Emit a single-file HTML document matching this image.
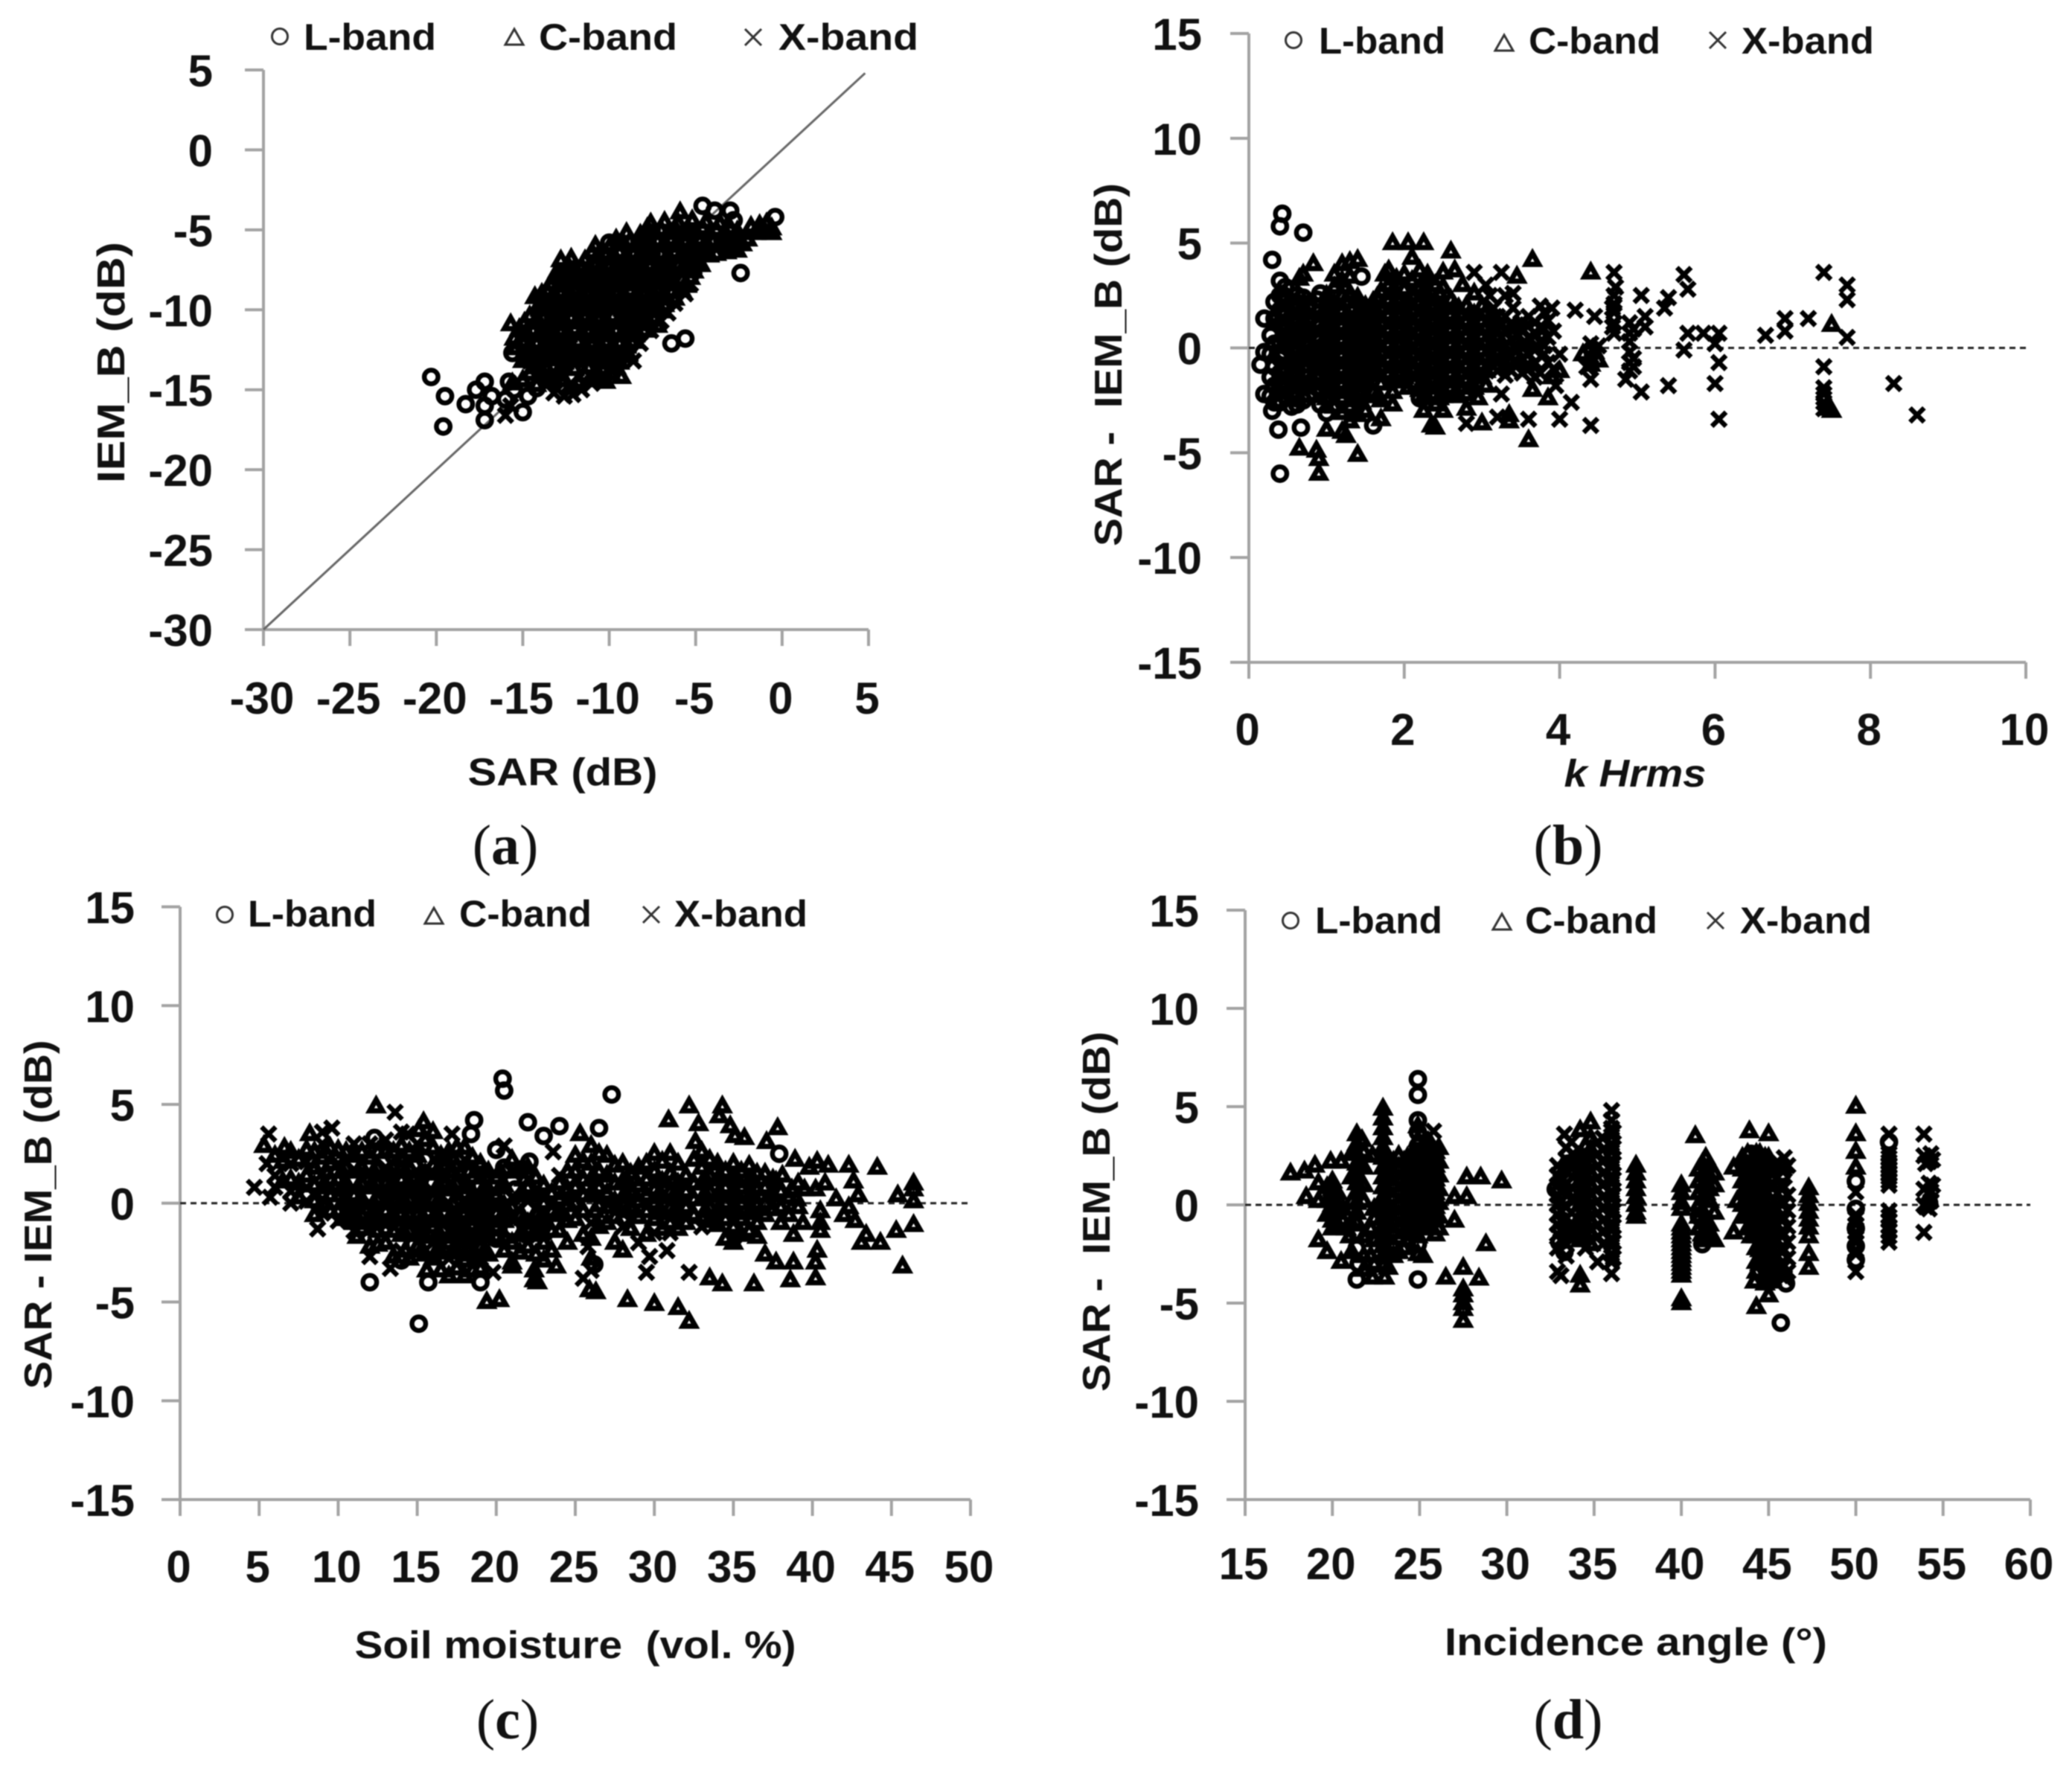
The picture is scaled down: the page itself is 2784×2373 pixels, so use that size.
<!DOCTYPE html>
<html lang="en">
<head>
<meta charset="utf-8">
<title>SAR versus IEM_B backscatter scatter plots</title>
<style>
html,body{margin:0;padding:0;background:#fff;}
svg{display:block;filter:blur(0.7px);}
text{font-family:"Liberation Sans",sans-serif;font-weight:700;fill:#111;}
.tick{font-size:60px;}
.leg{font-size:50px;}
.ttl{font-size:52px;}
.cap{font-family:"Liberation Serif",serif;font-weight:400;font-size:76px;}
.cap tspan{font-weight:700;}
</style>
</head>
<body>
<svg id="figure" xmlns="http://www.w3.org/2000/svg" width="2784" height="2373" viewBox="0 0 2784 2373">
<rect x="0" y="0" width="2784" height="2373" fill="#fff"/>

<g id="panel-a">
  <g>
    <circle cx="376" cy="49" r="10.5" fill="none" stroke="#333" stroke-width="3"/>
    <text class="leg" x="408" y="67" textLength="178" lengthAdjust="spacingAndGlyphs">L-band</text>
    <path d="M691 39 L703 60 L679 60 Z" fill="none" stroke="#333" stroke-width="3"/>
    <text class="leg" x="724" y="67" textLength="186" lengthAdjust="spacingAndGlyphs">C-band</text>
    <path d="M1001 39 L1023 61 M1023 39 L1001 61" fill="none" stroke="#333" stroke-width="3"/>
    <text class="leg" x="1046" y="67" textLength="188" lengthAdjust="spacingAndGlyphs">X-band</text>
  </g>
  <text class="ttl" x="756" y="1055" text-anchor="middle" textLength="255" lengthAdjust="spacingAndGlyphs">SAR (dB)</text>
  <text class="ttl" transform="translate(167,487) rotate(-90)" text-anchor="middle" textLength="324" lengthAdjust="spacingAndGlyphs">IEM_B (dB)</text>
  <text class="cap" x="679" y="1161" text-anchor="middle">(<tspan>a</tspan>)</text>
</g>

<g id="panel-b">
  <g>
    <circle cx="1738" cy="54" r="10.5" fill="none" stroke="#333" stroke-width="3"/>
    <text class="leg" x="1772" y="72" textLength="170" lengthAdjust="spacingAndGlyphs">L-band</text>
    <path d="M2021 47 L2033 68 L2009 68 Z" fill="none" stroke="#333" stroke-width="3"/>
    <text class="leg" x="2054" y="72" textLength="177" lengthAdjust="spacingAndGlyphs">C-band</text>
    <path d="M2297 43 L2319 65 M2319 43 L2297 65" fill="none" stroke="#333" stroke-width="3"/>
    <text class="leg" x="2340" y="72" textLength="178" lengthAdjust="spacingAndGlyphs">X-band</text>
  </g>
  <text class="ttl" x="2197" y="1057" text-anchor="middle" textLength="191" lengthAdjust="spacingAndGlyphs" font-style="italic">k Hrms</text>
  <text class="ttl" transform="translate(1507,490) rotate(-90)" text-anchor="middle" textLength="488" lengthAdjust="spacingAndGlyphs" xml:space="preserve">SAR -  IEM_B (dB)</text>
  <text class="cap" x="2107" y="1161" text-anchor="middle">(<tspan>b</tspan>)</text>
</g>

<g id="panel-c">
  <g>
    <circle cx="302" cy="1229" r="10.5" fill="none" stroke="#333" stroke-width="3"/>
    <text class="leg" x="333" y="1245" textLength="173" lengthAdjust="spacingAndGlyphs">L-band</text>
    <path d="M583 1220 L595 1241 L571 1241 Z" fill="none" stroke="#333" stroke-width="3"/>
    <text class="leg" x="617" y="1245" textLength="178" lengthAdjust="spacingAndGlyphs">C-band</text>
    <path d="M864 1218 L886 1240 M886 1218 L864 1240" fill="none" stroke="#333" stroke-width="3"/>
    <text class="leg" x="906" y="1245" textLength="179" lengthAdjust="spacingAndGlyphs">X-band</text>
  </g>
  <text class="ttl" x="773" y="2228" text-anchor="middle" textLength="593" lengthAdjust="spacingAndGlyphs" xml:space="preserve">Soil moisture  (vol. %)</text>
  <text class="ttl" transform="translate(69,1632) rotate(-90)" text-anchor="middle" textLength="469" lengthAdjust="spacingAndGlyphs">SAR - IEM_B (dB)</text>
  <text class="cap" x="682" y="2336" text-anchor="middle">(<tspan>c</tspan>)</text>
</g>

<g id="panel-d">
  <g>
    <circle cx="1734" cy="1237" r="10.5" fill="none" stroke="#333" stroke-width="3"/>
    <text class="leg" x="1767" y="1254" textLength="171" lengthAdjust="spacingAndGlyphs">L-band</text>
    <path d="M2018 1228 L2030 1249 L2006 1249 Z" fill="none" stroke="#333" stroke-width="3"/>
    <text class="leg" x="2049" y="1254" textLength="178" lengthAdjust="spacingAndGlyphs">C-band</text>
    <path d="M2294 1226 L2316 1248 M2316 1226 L2294 1248" fill="none" stroke="#333" stroke-width="3"/>
    <text class="leg" x="2338" y="1254" textLength="177" lengthAdjust="spacingAndGlyphs">X-band</text>
  </g>
  <text class="ttl" x="2198" y="2224" text-anchor="middle" textLength="514" lengthAdjust="spacingAndGlyphs">Incidence angle (°)</text>
  <text class="ttl" transform="translate(1491,1628) rotate(-90)" text-anchor="middle" textLength="484" lengthAdjust="spacingAndGlyphs" xml:space="preserve">SAR -  IEM_B (dB)</text>
  <text class="cap" x="2107" y="2336" text-anchor="middle">(<tspan>d</tspan>)</text>
</g>
</svg>

<script>
// Tick labels
const ticksAX = [-30,-25,-20,-15,-10,-5,0,5];
const ticksAY = [5,0,-5,-10,-15,-20,-25,-30];
const ticksBX = [0,2,4,6,8,10];
const ticksCX = [0,5,10,15,20,25,30,35,40,45,50];
const ticksDX = [15,20,25,30,35,40,45,50,55,60];
const ticksDiffY = [15,10,5,0,-5,-10,-15];

// Series values: flat x,y reading order
const panelA_L = [-20.3,-14.2,-19.5,-15.4,-19.6,-17.3,-18.3,-15.9,-17.7,-15,-17.2,-14.5,-17.2,-16,-17.2,-16.9,-16.8,-15.4,-16,-15.6,-15,-16.4,-14.7,-15.4,-15.5,-15,-15.8,-14.5,-15.6,-12.7,-2.4,-7.7,-6.4,-12.1,-5.6,-11.8,-0.4,-4.2,-4.6,-3.5,-3,-3.8,-3.9,-3.8,-2.8,-4.4,-10,-5.8,-12.6,-12.6,-11.8,-12.2,-8,-8,-14.2,-14.9,-13.4,-14.2,-9.5,-9.2,-7.3,-9.6,-6.5,-8.2,-5.2,-5.3];
const panelA_C = [-14.6,-14,-13.8,-14.1,-12.9,-13.9,-11.4,-14.1,-10.7,-13.9,-9.9,-14,-9.3,-14.2,-15,-13.2,-14.2,-13.3,-13.4,-13.1,-12.6,-13.3,-11.8,-13.2,-11,-13.1,-10.2,-13.3,-9.4,-13.3,-15.4,-12.4,-14.6,-12.5,-13.8,-12.3,-13,-12.4,-12.2,-12.5,-11.4,-12.3,-10.6,-12.4,-9.8,-12.5,-9,-12.3,-15.5,-11.8,-14.8,-11.6,-14,-11.5,-13.2,-11.7,-12.4,-11.6,-11.6,-11.5,-10.8,-11.7,-10,-11.6,-9.2,-11.5,-8.5,-11.6,-15.7,-10.9,-14.9,-10.8,-14.1,-10.7,-13.3,-10.9,-12.5,-10.8,-11.7,-10.7,-10.9,-10.9,-10.1,-10.8,-9.3,-10.7,-8.5,-10.9,-7.7,-10.8,-7.2,-11,-14.3,-9.2,-14,-10,-13.2,-10.1,-12.4,-9.9,-11.6,-10,-10.8,-10.1,-10,-9.9,-9.2,-10,-8.4,-10.1,-7.6,-9.9,-7,-10.1,-13.9,-9,-13.1,-9.3,-12.3,-9.1,-11.5,-9.2,-10.7,-9.3,-9.9,-9.1,-9.1,-9.2,-8.3,-9.3,-7.5,-9.1,-6.8,-9.2,-6.2,-9.3,-13.4,-8.4,-13.2,-8,-12.5,-8.5,-11.7,-8.3,-10.9,-8.4,-10.1,-8.5,-9.3,-8.3,-8.5,-8.4,-7.7,-8.5,-6.9,-8.3,-6.2,-8.4,-5.5,-8.5,-13,-7.6,-12.8,-6.9,-12.2,-7.6,-11.4,-7.7,-10.6,-7.5,-9.8,-7.6,-9,-7.7,-8.2,-7.5,-7.4,-7.6,-6.6,-7.7,-5.8,-7.5,-5.1,-7.6,-12.2,-6.8,-11.4,-6.9,-10.7,-6.7,-9.9,-6.8,-9.1,-6.9,-8.3,-6.7,-7.5,-6.8,-6.7,-6.9,-5.9,-6.7,-5.1,-6.8,-4.8,-7,-10.8,-6,-10,-6.1,-9.2,-5.9,-8.4,-6,-7.6,-6.1,-6.8,-5.9,-6,-6,-5.2,-6.1,-4.4,-5.9,-3.6,-6,-2.9,-6.1,-2.3,-5.9,-9,-5.2,-8.2,-5.3,-7.4,-5.1,-6.6,-5.2,-5.8,-5.3,-5,-5.1,-4.2,-5.2,-3.4,-5.3,-2.6,-5.1,-1.5,-5.2,-1,-5.1,-0.6,-5.2,-7.6,-4.6,-6.8,-4.5,-6,-4.6,-5.2,-4.4,-4.4,-4.5,-3.6,-4.6,-5.9,-3.9,-1.3,-4.7,-0.9,-4.6];
const panelA_Cdense = [-15.6,-14.6,-15,-14.4,-14.2,-14.7,-13.4,-14.5,-12.6,-14.4,-11.8,-14.5,-11,-14.4,-10.2,-14.5,-14.4,-13.6,-13.6,-13.7,-12.8,-13.6,-12,-13.7,-11.2,-13.6,-10.4,-13.7,-9.6,-13.6,-15,-12.8,-14.2,-12.9,-13.4,-12.8,-12.6,-12.9,-11.8,-12.8,-11,-12.9,-10.2,-12.8,-9.4,-12.9,-8.9,-12.8,-15,-12,-14.2,-12.1,-13.4,-12,-12.6,-12.1,-11.8,-12,-11,-12.1,-10.2,-12,-9.4,-12.1,-8.7,-12,-15.2,-11.2,-14.4,-11.3,-13.6,-11.2,-12.8,-11.3,-12,-11.2,-11.2,-11.3,-10.4,-11.2,-9.6,-11.3,-8.8,-11.2,-8,-11.3,-14.6,-10.4,-13.8,-10.5,-13,-10.4,-12.2,-10.5,-11.4,-10.4,-10.6,-10.5,-9.8,-10.4,-9,-10.5,-8.2,-10.4,-7.4,-10.5,-14,-9.6,-13.2,-9.7,-12.4,-9.6,-11.6,-9.7,-10.8,-9.6,-10,-9.7,-9.2,-9.6,-8.4,-9.7,-7.6,-9.6,-6.8,-9.7,-13.6,-8.8,-12.8,-8.9,-12,-8.8,-11.2,-8.9,-10.4,-8.8,-9.6,-8.9,-8.8,-8.8,-8,-8.9,-7.2,-8.8,-6.4,-8.9,-5.8,-8.8,-13,-8,-12.2,-8.1,-11.4,-8,-10.6,-8.1,-9.8,-8,-9,-8.1,-8.2,-8,-7.4,-8.1,-6.6,-8,-5.8,-8.1,-5.3,-8,-12.4,-7.2,-11.6,-7.3,-10.8,-7.2,-10,-7.3,-9.2,-7.2,-8.4,-7.3,-7.6,-7.2,-6.8,-7.3,-6,-7.2,-5.2,-7.3,-4.7,-7.2,-11,-6.4,-10.2,-6.5,-9.4,-6.4,-8.6,-6.5,-7.8,-6.4,-7,-6.5,-6.2,-6.4,-5.4,-6.5,-4.6,-6.4,-3.8,-6.5,-3.2,-6.4,-2.6,-6.3,-9.6,-5.6,-8.8,-5.7,-8,-5.6,-7.2,-5.7,-6.4,-5.6,-5.6,-5.7,-4.8,-5.6,-4,-5.7,-3.2,-5.6,-2.6,-5.7,-2,-5.6,-7.8,-4.9,-7,-5,-6.2,-4.9,-5.4,-5,-4.6,-4.9,-3.8,-5,-3,-4.9,-1.8,-4.8,-1.2,-5,-0.6,-4.9];
const panelA_Ccore = [-14.6,-13,-13.8,-13,-13,-13,-12.2,-13,-11.4,-13,-10.6,-13,-9.8,-13,-14.6,-12.2,-13.8,-12.2,-13,-12.2,-12.2,-12.2,-11.4,-12.2,-10.6,-12.2,-9.8,-12.2,-9,-12.2,-14.8,-11.4,-14,-11.4,-13.2,-11.4,-12.4,-11.4,-11.6,-11.4,-10.8,-11.4,-10,-11.4,-9.2,-11.4,-8.4,-11.4,-14.2,-10.6,-13.4,-10.6,-12.6,-10.6,-11.8,-10.6,-11,-10.6,-10.2,-10.6,-9.4,-10.6,-8.6,-10.6,-7.8,-10.6,-13.6,-9.8,-12.8,-9.8,-12,-9.8,-11.2,-9.8,-10.4,-9.8,-9.6,-9.8,-8.8,-9.8,-8,-9.8,-7.2,-9.8,-13.2,-9,-12.4,-9,-11.6,-9,-10.8,-9,-10,-9,-9.2,-9,-8.4,-9,-7.6,-9,-6.8,-9,-12.8,-8.2,-12,-8.2,-11.2,-8.2,-10.4,-8.2,-9.6,-8.2,-8.8,-8.2,-8,-8.2,-7.2,-8.2,-6.4,-8.2,-12,-7.4,-11.2,-7.4,-10.4,-7.4,-9.6,-7.4,-8.8,-7.4,-8,-7.4,-7.2,-7.4,-6.4,-7.4,-5.6,-7.4,-10.6,-6.6,-9.8,-6.6,-9,-6.6,-8.2,-6.6,-7.4,-6.6,-6.6,-6.6,-5.8,-6.6,-5,-6.6,-4.2,-6.6,-9.2,-5.8,-8.4,-5.8,-7.6,-5.8,-6.8,-5.8,-6,-5.8,-5.2,-5.8,-4.4,-5.8,-3.6,-5.8,-3,-5.8];
const panelA_X = [-16,-16.6,-15.7,-16,-13.2,-15.2,-12.6,-15.4,-12.1,-15.3,-11.6,-15,-11,-14.6,-10.5,-14.2,-9.7,-13.6,-8.8,-12.8,-8.2,-12.1,-7.6,-11.3,-7,-10.7,-6.6,-10.2,-6.2,-9.6,-5.6,-9,-5.3,-8.4,-13.6,-14.6,-12.3,-14.7,-8.6,-13.2,-14.6,-13.2,-9,-10.4,-10,-9.5,-11,-9,-12,-10,-8.2,-9,-7.2,-8,-7,-7,-5.5,-6.6,-4.6,-6.4];

const panelB_L = [0.43,6.4,0.4,5.8,0.7,5.5,0.3,4.2,0.4,3.2,0.15,-0.8,0.2,1.4,0.2,-2.2,0.3,-3,0.38,-3.9,0.67,-3.8,0.4,-6,1.45,3.4,0.6,-2.4,0.2,-0.2,0.5,0.5,0.4,2.5,0.4,1.8,0.4,1.1,0.4,0.3,0.4,-0.5,0.4,-1.2,0.4,-1.9,0.4,-2.6,0.55,2.8,0.55,2.1,0.55,1.4,0.55,0.7,0.55,0,0.55,-0.7,0.55,-1.4,0.55,-2.1,0.55,-2.8,0.7,2.4,0.7,1.7,0.7,1,0.7,0.3,0.7,-0.4,0.7,-1.1,0.7,-1.8,0.7,-2.5,0.85,2,0.85,1.3,0.85,0.6,0.85,-0.1,0.85,-0.8,0.85,-1.5,0.85,-2.2,0.28,0.6,0.28,-0.3,0.28,-1.4,0.28,-2.3,1.3,2.3,2.1,-1.6,1.6,-3.7,1,-3.1,2.2,-2.4];
const panelB_Ldense = [0.47,2.9,0.47,2.2,0.47,1.5,0.47,0.8,0.47,0.1,0.47,-0.9,0.47,-1.6,0.47,-2.3,0.62,2.5,0.62,1.8,0.62,1.1,0.62,0.4,0.62,-0.3,0.62,-1.1,0.62,-1.8,0.62,-2.7,0.77,2.1,0.77,1.4,0.77,0.7,0.77,0,0.77,-0.8,0.77,-1.4,0.77,-2.2,0.92,2.6,0.92,1.7,0.92,1,0.92,0.3,0.92,-0.5,0.92,-1.2,0.92,-1.9,0.92,-2.7,0.33,2.2,0.33,1.4,0.33,0.2,0.33,-0.9,0.33,-1.8,0.33,-2.6];
const panelB_Lcore = [0.45,2.5,0.45,1.8,0.45,1.2,0.45,0.5,0.45,-0.2,0.45,-1.2,0.45,-1.9,0.6,2.2,0.6,1.5,0.6,0.8,0.6,0.1,0.6,-0.6,0.6,-1.5,0.6,-2.2,0.75,1.9,0.75,1.2,0.75,0.4,0.75,-0.3,0.75,-1.1,0.75,-1.8,0.88,2.3,0.88,1,0.88,0.3,0.88,-0.4,0.88,-1.2,0.88,-1.9];
const panelB_C = [1.85,5,2.05,5,2.25,5,2.6,4.6,3.65,4.2,0.83,4,0.7,3.5,0.65,3.3,4.4,3.6,3.45,3.4,7.5,1.1,7.5,-3,7.45,-2.9,0.65,-4.8,0.87,-4.9,0.9,-5.3,0.9,-6,1.4,-5.1,3.6,-4.4,1,-3.9,1.25,-4.2,1.2,-4,3,-3.6,2.35,-3.7,2.4,-3.8,3.35,-3.5,3.35,-3.2,1.7,-3.4,1.85,-2.7,2.25,-3,2.8,-2.9,2.95,-2.4,3.65,-2,3.85,-2.4,3.9,-1.4,4,-1.1,2.75,3,1.1,3.5,1.3,4.1,1.4,4.2,1.2,4,1.75,3.5,1.8,3.7,2.2,3.7,2.3,3.5,2.5,3.6,2.65,3.7,4.3,-0.3,4.45,-0.2,4.5,-0.6,4.4,-0.8,1,2.5,1,1.8,1,1.1,1,0.4,1,-0.3,1,-1,1,-1.7,1,-2.4,1.2,3.2,1.2,2.5,1.2,1.8,1.2,1.1,1.2,0.4,1.2,-0.3,1.2,-1,1.2,-1.7,1.2,-2.4,1.2,-3.1,1.4,2.4,1.4,1.7,1.4,1,1.4,0.3,1.4,-0.4,1.4,-1.1,1.4,-1.8,1.4,-2.5,1.4,-3.2,1.6,2.2,1.6,1.5,1.6,0.8,1.6,0.1,1.6,-0.6,1.6,-1.3,1.6,-2.1,1.8,3,1.8,2.3,1.8,1.6,1.8,0.9,1.8,0.2,1.8,-0.5,1.8,-1.2,2,2.8,2,2.1,2,1.4,2,0.7,2,0,2,-0.7,2,-1.4,2,3.5,2.2,2.9,2.2,2.2,2.2,1.5,2.2,0.8,2.2,0.1,2.2,-0.6,2.2,-1.3,2.2,-2,2.4,3,2.4,2.3,2.4,1.6,2.4,0.9,2.4,0.2,2.4,-0.5,2.4,-1.2,2.4,-1.9,2.4,-2.7,2.6,2.3,2.6,1.6,2.6,0.9,2.6,0.2,2.6,-0.5,2.6,-1.2,2.6,-1.9,2.8,2,2.8,1.3,2.8,0.6,2.8,-0.1,2.8,-0.8,2.8,-1.5,2.8,-2.2,3,2,3,1.3,3,0.6,3,-0.1,3,-0.8,3,-1.4];
const panelB_Cdense = [1.1,2.9,1.1,2.1,1.1,1.4,1.1,0.7,1.1,0,1.1,-0.7,1.1,-1.4,1.1,-2.1,1.1,-2.8,1.3,3.4,1.3,2.6,1.3,1.4,1.3,0.7,1.3,0,1.3,-0.7,1.3,-1.4,1.3,-2.1,1.3,-2.8,1.3,-3.5,1.5,2,1.5,1.3,1.5,0.6,1.5,-0.1,1.5,-0.8,1.5,-1.5,1.5,-2.3,1.5,-3,1.7,2.7,1.7,1.9,1.7,1.2,1.7,0.5,1.7,-0.2,1.7,-0.9,1.7,-1.7,1.7,-2.5,1.9,3.3,1.9,2.6,1.9,1.9,1.9,1.2,1.9,0.5,1.9,-0.2,1.9,-0.9,1.9,-1.6,2.1,4.3,2.1,3.2,2.1,2.5,2.1,1.8,2.1,1.1,2.1,0.4,2.1,-0.3,2.1,-1,2.3,3.3,2.3,2.5,2.3,1.8,2.3,1.1,2.3,0.4,2.3,-0.3,2.3,-1,2.3,-1.7,2.3,-2.4,2.5,2.9,2.5,2,2.5,1.3,2.5,0.6,2.5,-0.1,2.5,-0.8,2.5,-1.5,2.5,-2.3,2.5,-3,2.7,1.9,2.7,1.2,2.7,0.5,2.7,-0.2,2.7,-0.9,2.7,-1.6,2.7,-2.3,2.9,2.6,2.9,1.6,2.9,0.9,2.9,0.2,2.9,-0.5,2.9,-1.2,2.9,-1.9,3.05,1.7,3.05,1,3.05,0.3,3.05,-0.4,3.05,-1.1,3.05,-1.8];
const panelB_Ccore = [1.05,2.2,1.05,1.5,1.05,0.8,1.05,0.1,1.05,-0.6,1.05,-1.3,1.05,-2,1.25,2.2,1.25,1.5,1.25,0.8,1.25,0.1,1.25,-0.6,1.25,-1.3,1.25,-2,1.45,1.8,1.45,1.1,1.45,0.4,1.45,-0.3,1.45,-1,1.45,-1.7,1.45,-2.6,1.65,2.4,1.65,1.7,1.65,1,1.65,0.3,1.65,-0.4,1.65,-1.1,1.65,-2.3,1.85,2.7,1.85,2,1.85,1.3,1.85,0.6,1.85,-0.1,1.85,-0.8,1.85,-1.5,1.85,-2.1,2.05,2.3,2.05,1.6,2.05,0.9,2.05,0.2,2.05,-0.5,2.05,-1.2,2.05,-1.9,2.25,2.7,2.25,2,2.25,1.3,2.25,0.6,2.25,-0.1,2.25,-0.8,2.25,-1.5,2.25,-2.3,2.45,2.6,2.45,1.9,2.45,1.2,2.45,0.5,2.45,-0.2,2.45,-0.9,2.45,-1.6,2.45,-2.4,2.65,2,2.65,1.3,2.65,0.6,2.65,-0.1,2.65,-0.8,2.65,-1.5,2.65,-2.2,2.85,1.7,2.85,1,2.85,0.3,2.85,-0.4,2.85,-1.1,2.85,-1.8];
const panelB_X = [7.4,3.6,7.7,3,7.7,2.3,7.7,0.5,7.2,1.4,6.9,1.4,6.9,0.8,6.65,0.6,7.4,-0.9,7.4,-1.9,7.4,-2.2,7.4,-2.6,7.4,-2.9,8.3,-1.7,8.6,-3.2,6.05,0.7,6,0.2,6.05,-0.7,6,-1.7,6.05,-3.4,5.85,0.7,5.65,0.7,5.6,-0.1,5.6,3.5,5.65,2.8,5.4,2.4,5.35,1.9,5.4,-1.8,5.05,2.5,5.1,1.5,5.1,1,5.05,-2.1,4.9,1.2,4.9,0.7,4.9,0.3,4.9,-0.2,4.9,-0.7,4.9,-1.1,4.85,-1.5,4.7,3.6,4.7,2.5,4.7,2.1,4.7,1.7,4.7,1.2,4.7,0.7,4.45,1.5,4.4,0.2,4.4,-1.5,4.4,-3.7,4.2,1.8,4.15,-2.6,4,-3.4,3.9,1.9,3.75,2,3.6,-3.4,3.25,3.6,2.9,3.6,2.8,-3.6,3.05,3,3.2,-3.3,3.4,1.9,3.1,2.5,3.5,1.2,3.6,0.5,3.8,-0.3,4,-0.3,3.25,-2.2,4.35,-0.9,3.15,1.9,3.15,1.2,3.15,0.5,3.15,-0.2,3.15,-0.9,3.3,2.5,3.3,1.5,3.3,0.8,3.3,0.1,3.3,-0.6,3.3,-1.3,3.45,0.6,3.45,-0.1,3.45,-0.8,3.6,1.5,3.6,-0.3,3.6,-1,3.75,1,3.75,0.3,3.75,-1.2,3.85,1.3,3.85,0.5,3.85,-0.7,3.4,2.6,4.4,-0.4,3.95,-1.8];
const panelB_Xdense = [3.2,1.5,3.2,0.85,3.2,0.2,3.2,-0.5,3.2,-1.1,3.38,1.2,3.38,0.4,3.38,-0.4,3.38,-1.1,3.52,0.9,3.52,0.2,3.52,-0.5,3.52,-1.2,3.68,1.2,3.68,0.7,3.68,-0.1,3.68,-0.7,3.68,-1.4,3.8,1.7,3.8,0.9,3.8,0.1,3.92,0.8,3.92,-1,4.42,-0.1,4.42,-0.6,4.5,0.1,4.68,1.9,4.68,1,4.72,2.9,4.95,0.9,4.95,-0.5,4.95,-0.9,3.25,1.1,3.25,0.5,3.25,-0.2,3.25,-0.9,3.42,0.9,3.42,0.1,3.42,-0.6,3.58,1.1,3.58,0.2,3.58,-0.8];

const panelC_L = [27.3,5.5,20.4,6.3,20.5,5.7,18.6,4.2,22,4.1,24,3.9,23,3.4,26.5,3.8,12,-4,15.1,-6.1,12.3,3.3,15.7,-4,19,-4,16.7,2.3,18.4,3.5,22.1,2.1,37.9,2.5,15.5,2.2,17,1.4,18,1.6,19,0.9,20,2.7,20.5,1.8,21.2,0.7,22,-0.3,16,1,17.5,-0.1,18.6,-1,20,-1.8,21,-1.3,13,-1.2,14,-2.9,14.8,-2.1,26.2,-3.1,11,1.2,13.5,2.4];
const panelC_C = [12.4,4.9,15.4,4.1,15.1,3.7,16,3.6,8.2,3.5,5.3,2.9,6.6,2.8,19.4,-5,20.2,-4.9,21,-3.2,22.4,-3.9,22.6,-4,23.8,-3.2,25.9,-4.4,26.3,-4.5,25.3,3.5,15.6,-3.4,11.2,-1.7,44.1,1.8,46.4,0.7,46.4,0.1,46.4,1,45.4,0.4,46.4,-1.1,45.3,-1.4,45.7,-3.2,42.3,1.9,42.6,1.1,42.9,0.4,42.3,-0.2,42,-0.6,42.7,-0.9,43.4,-1.6,43.1,-2,44.3,-2,41.5,0.2,40.5,-0.4,40.5,-1,40.5,-1.4,40.3,-2.4,40.2,-3,40.2,-3.8,38.6,-3.9,38.8,-3,37.7,-3,37,-2.6,37.8,3.8,37.1,3.1,38.9,2.2,40.3,2.1,41,1.9,39.8,1.8,38.1,1.4,37.7,1.1,39.1,1,38.7,0.7,39.5,0.7,40.2,0.7,40.8,1,39.1,-0.2,38,-1,38.8,-1.6,39.4,-1,33.5,-3.8,34.3,-4.1,36.3,-4.1,28.3,-4.9,30,-5.1,31.5,-5.3,32.2,-6,30.9,4.2,32.2,4.9,32.8,4,32.6,3.1,34.3,4.9,34.1,4.4,34.8,3.9,35.1,3.4,35.7,3.3,6,2.4,7,2.6,8,2.7,7,1.2,8,1.4,9,2.3,10,2.7,11,2.4,12,2.3,13,2.6,14,2.9,9,0.8,10,1.2,11,0.4,12,0.8,13,1,14,1.2,15,2.4,10,-0.4,11,-1,12,-0.7,13,-0.4,14,-0.2,15,0.9,12,-2.2,13,-2,14,-1.6,15,-0.6,15,-2.2,16,2.8,16,1.9,16,0.2,16,-1.2,16,-2.8,16.5,-3.4,17,2.6,17,0.7,17,-0.8,17,-2,17,-3.7,18,2.8,18,0.8,18,-0.5,18,-1.7,18,-2.9,18,-3.7,19,2,19,0.1,19,-1.1,19,-2.2,19,-3.3,20,1.3,20,0.4,20,-0.5,20,-1.2,20.5,-2.4,21,2.2,21,-0.2,21,-2,21,-3,22,1.8,22,0.8,22,-1,22,-2.2,22.4,-3.4,23,0.9,23,0,23,-1,23,-2,23,-2.9,24,1,24,0.2,24,-0.6,24,-1.4,24.5,-2,25,2.4,25,1.6,25,0.8,25,0,25,-0.8,25.5,-1.6,26,2.9,26,2,26,1.2,26,0.4,26,-1.8,26,-2.8,27,2.4,27,1.4,27,0.5,27,-0.2,27,-1,27.5,-2,28,2,28,1.1,28,0.3,28,-2.4,29,1.8,29,0.9,29,0.1,29,-0.7,29.5,-1.6,30,2.5,30,1.6,30,0.7,30,0,30,-0.8,31,2.5,31,1.5,31,0.6,31,-0.2,31,-1,32,1.4,32,0.6,32,-0.2,32,-1,33,2.6,33,1.8,33,1,33,0.2,33,-0.7,34,2,34,1.2,34,0.4,34,-0.4,34,-1.1,35,2,35,1.2,35,0.4,35,-0.4,35,-1.2,35,-2,36,1.9,36,1.1,36,0.3,36,-0.5,36,-1.4,37,1.5,37,0.8,37,0,37,-0.6,38,0.6,38,-0.2,39,0.2];
const panelC_Cdense = [6.5,2.1,6.5,1.1,7.5,2.2,7.5,1,7.5,0.3,8.5,2.6,8.5,1.8,8.5,0.9,8.5,0.1,8.5,-0.6,9.5,2.8,9.5,2,9.5,1.2,9.5,0.4,9.5,-0.4,10.5,2.6,10.5,1.8,10.5,1,10.5,0.2,10.5,-0.6,11.5,2.6,11.5,1.8,11.5,1,11.5,0.2,11.5,-0.6,11.5,-1.3,12.5,2.6,12.5,1.8,12.5,1,12.5,0.2,12.5,-0.6,12.5,-1.4,12.5,-2.1,13.5,2.6,13.5,1.8,13.5,1,13.5,0.2,13.5,-0.6,13.5,-1.4,13.5,-2.7,14.5,2.6,14.5,1.8,14.5,1,14.5,0.2,14.5,-0.6,14.5,-1.4,14.5,-2.8,15.5,3.2,15.5,1.5,15.5,0.7,15.5,-0.1,15.5,-0.9,15.5,-1.7,15.5,-2.6,16.5,2.4,16.5,1.5,16.5,0.7,16.5,-0.1,16.5,-0.9,16.5,-1.7,16.5,-2.5,17.5,2.8,17.5,1.9,17.5,1,17.5,-0.9,17.5,-1.7,17.5,-2.5,17.5,-3.3,18.5,2.3,18.5,1.3,18.5,0.3,18.5,-0.2,18.5,-1.8,18.5,-2.6,18.5,-3.4,19.5,1.6,19.5,0.7,19.5,-0.1,19.5,-0.9,19.5,-1.7,19.5,-2.6,20.5,0.9,20.5,-0.1,20.5,-0.9,20.5,-1.7,21.5,1.6,21.5,0.4,21.5,-0.6,21.5,-1.6,21.5,-2.5,22.5,1.3,22.5,0.4,22.5,-0.5,22.5,-1.5,22.5,-2.6,23.5,0.5,23.5,-0.4,23.5,-1.4,23.5,-2.4,24.5,1.6,24.5,0.7,24.5,-0.1,24.5,-0.9,25.5,2.1,25.5,1.2,25.5,0.4,25.5,-0.4,26.5,2.5,26.5,1.6,26.5,0.8,26.5,-0.1,26.5,-1.2,27.5,1.9,27.5,1,27.5,0.1,27.5,-0.7,28.5,1.5,28.5,0.6,28.5,-0.2,28.5,-1.3,29.5,2,29.5,1.2,29.5,0.4,29.5,-0.4,30.5,2.1,30.5,1.1,30.5,0.3,30.5,-0.5,30.5,-1.3,31.5,2,31.5,1,31.5,0.2,31.5,-0.6,31.5,-1.3,32.5,2.2,32.5,1,32.5,0.2,32.5,-0.6,33.5,2.2,33.5,1.4,33.5,0.6,33.5,-0.2,33.5,-0.9,34.5,1.6,34.5,0.8,34.5,0,34.5,-0.8,34.5,-1.8,35.5,1.6,35.5,0.8,35.5,0,35.5,-0.8,35.5,-1.6,36.5,1.5,36.5,0.7,36.5,-0.1,36.5,-1,36.5,-1.7,37.5,1.2,37.5,0.4,37.5,-0.3,38.5,0.3,38.5,-0.6];
const panelC_Ccore = [9.25,1.6,9.25,0.8,9.25,0,10.25,1.6,10.25,0.8,10.25,0,10.25,-0.8,11.25,1.6,11.25,0.8,11.25,0,11.25,-0.8,12.25,1.6,12.25,0.8,12.25,0,12.25,-0.8,13.25,1.6,13.25,0.8,13.25,0,13.25,-0.8,14.25,1.6,14.25,0.8,14.25,0,14.25,-0.8,14.25,-1.6,14.25,-2.4,15.25,1.6,15.25,0.8,15.25,0,15.25,-0.8,15.25,-1.6,15.25,-2.4,16.25,1.6,16.25,0.8,16.25,0,16.25,-0.8,16.25,-1.6,16.25,-2.4,17.25,1.6,17.25,0.8,17.25,0,17.25,-0.8,17.25,-1.6,17.25,-2.4,18.25,1.6,18.25,0.8,18.25,0,18.25,-0.8,18.25,-1.6,18.25,-2.4,19.25,1.6,19.25,0.8,19.25,0,19.25,-0.8,19.25,-1.6,19.25,-2.4,20.25,1.6,20.25,0.8,20.25,0,20.25,-0.8,21.75,1.2,21.75,0.4,21.75,-0.8,21.75,-1.6,22.75,0.4,22.75,-0.8,22.75,-1.6,26.25,1.2,26.25,0.4,26.25,-0.4,28.25,1.2,28.25,0.4,28.25,-0.4,30.25,1.2,30.25,0.4,30.25,-0.4,31.25,1.2,31.25,0.4,31.25,-0.4,33.25,1.2,33.25,0.4,33.25,-0.4,34.25,1.2,34.25,0.4,34.25,-0.4,35.25,1.2,35.25,0.4,35.25,-0.4,36.25,1.2,36.25,0.4,36.25,-0.4];
const panelC_X = [5.6,3.5,13.6,4.6,14.4,3.5,17.2,3.5,23.6,2.6,4.7,0.8,5.7,0.3,8.7,-1.3,12,-2.7,13.3,-3.3,20.5,2.9,19.8,-3.5,24.5,0.2,25.5,-3.8,25.8,-2.2,32.2,-3.5,29.5,-3.5,30.8,-2.4,29.7,-2.7,5.5,2,6,1.4,6,0.8,7,2,7,0.6,7,0,8,2.1,8,0.8,8,0.1,9,3.6,9,3,9,1.5,9,0.2,9,-0.5,9.6,3.8,10,2,10,0.5,10,-0.9,11,3,11,1.7,11,-0.3,11,-1.4,12,3,12,1.5,12,0,12,-1.3,13,3.2,13,1.8,13,0.3,13,-1.1,14,3.6,14,2,14,0.5,14,-0.9,14,-2.4,15,3,15,1.6,15,0.2,15,-1.4,16,0.6,16,-0.5,16,-2,17,1.8,17,0,17,-1.4,17,-2.8,18,2.2,18,0.2,18,-1.1,18,-2.3,19,1.4,19,-0.5,19,-1.7,19,-2.8,20,-0.1,20,-1.5,21,1.6,21,0.3,21,-0.7,22,1.2,22,0.1,22,-1.6,23,0.4,23,-0.5,23,-1.5,24,1.4,24,-0.2,25,1.2,25,0.4,26,0.8,26,-1,26,-3.4,28,-0.5,28,-1.2,29,-2,30,-1.5,31,-1.5,33,-1.2,35,-1.7];

const panelD_L = [24.9,6.4,24.9,5.6,24.9,4.3,24.9,3.7,24.9,3,24.9,2.3,24.9,1.6,24.9,0.9,24.9,0.2,24.9,-0.5,24.9,-1.2,24.9,-2,24.9,-3.8,21.4,-3.8,21.4,-1.4,21.4,-2.2,21.5,-3,33.3,0.4,33.5,2.1,33.3,-2.4,44,2.6,44.4,1.8,43.8,1.2,44.6,0.4,45.7,-6,45.8,1.6,46,-4,50,1.2,50,-0.2,50,-1.2,50,-2.1,50,-2.8,51.9,3.2,54.2,0.1,41,-0.6,41.2,-2,32.8,0.8,33,-1.9];
const panelD_C = [17.6,1.6,18.4,1.7,19,2,19.9,2.2,20.5,2.2,18.5,0.4,19.2,1.1,19.2,0.2,27.7,1.4,28.5,1.4,29.7,1.2,27,0.4,27.7,0.4,27,-0.8,28.8,-2,27.5,-3.2,26.5,-3.7,28.4,-3.75,27.5,-4.3,27.5,-4.6,27.5,-5,27.5,-5.3,27.5,-5.9,19.2,-1.8,19.7,-2.4,20.5,-2.9,22.3,-3.7,23,-3.7,24.9,-2.5,20,1.2,20,0.8,20,0.4,20,0,20,-0.4,20,-0.8,20,-1.2,20.6,-0.8,20.6,-0.2,21.4,3.6,21.4,3.1,21.4,2.6,21.4,2.1,21.4,1.6,21.4,1.1,21.4,0.6,21.4,0.1,21.4,-0.4,21.4,-0.9,21.7,3.3,22.3,2.5,22.2,-1.2,22.2,-2.6,22.9,4.9,22.9,4.4,22.9,3.9,22.9,3.4,22.9,2.9,22.9,2.4,22.9,1.9,22.9,1.4,22.9,0.9,22.9,0.4,22.9,-0.1,22.9,-0.6,22.9,-1.1,22.9,-1.6,22.9,-2.1,22.9,-2.6,22.9,-3.1,23.5,2.2,23.5,1.6,23.5,1,23.5,0.4,23.5,-0.2,23.5,-0.8,23.5,-1.4,23.5,-2,23.5,-2.6,24.1,2.2,24.1,1.6,24.1,1,24.1,0.4,24.1,-0.2,24.1,-0.8,24.1,-1.4,24.1,-2.2,24.6,2.6,24.6,1.9,24.6,1.2,24.6,0.5,24.6,-0.2,24.6,-0.9,24.6,-1.5,25.5,3.2,25.5,2.5,25.5,1.8,25.5,1.1,25.5,0.4,25.5,-0.3,25.5,-1,25.9,2.7,25.9,2,25.9,1.3,25.9,0.6,25.9,-0.1,25.9,-0.8,25.9,-1.5,34.8,4.2,34.2,3.8,34.5,3,34.8,3.4,34.8,2.8,34.8,2.2,34.8,1.6,34.8,1,34.8,0.4,34.8,-0.2,34.8,-0.8,34.8,-1.4,34.8,-2,34.2,-4.1,34.2,-3.6,34.2,2.4,34.2,1.8,34.2,1.2,34.2,0.6,34.2,0,34.2,-0.6,34.2,-1.2,34.2,-1.8,37.4,2,37.4,1.6,37.4,1.2,37.4,0.8,37.4,0.4,37.4,0,37.4,-0.4,37.4,-0.6,40,1,40,0.6,40,0.1,40,-0.2,40,-1.2,40,-1.6,40,-2,40,-2.4,40,-2.8,40,-3.2,40,-3.6,40,-4.8,40,-5,40.8,3.5,41,1.8,41,1.2,41,0.6,41,0,41,-0.6,41,-1.2,41.4,2.4,41.4,1.8,41.4,1.2,41.4,0.6,41.4,-1.2,41.4,-1.8,41.9,1.6,41.9,1,41.9,-0.4,41.9,-1.8,43,1.9,43.2,0.2,43,-1.4,43.9,3.75,45,3.6,44.2,-3.9,45,-4.6,44.3,-5.2,43.5,2.4,43.5,1.8,43.5,1.2,43.5,0.6,43.5,0,43.5,-0.6,44,2.2,44,1.4,44,0.8,44,0.2,44,-0.4,44,-1,44,-1.6,44.5,2.6,44.5,1.9,44.5,1.2,44.5,0.5,44.5,-0.2,44.5,-0.9,44.5,-1.6,44.5,-2.3,44.5,-3,45,2.4,45,1.7,45,1,45,0.3,45,-0.4,45,-1.1,45,-1.8,45,-2.5,45,-3.2,45,-3.9,47.3,0.85,47.3,0.45,47.3,0.05,47.3,-0.35,47.3,-0.75,47.3,-1.15,47.3,-1.6,47.3,-2.5,47.3,-3.2,50,5,50,3.6,50,2.7,50,1.9];
const panelD_Cdense = [19.7,0.9,19.7,0.2,19.7,-0.5,20.3,0.6,20.3,-0.2,20.3,-1,20.8,-1.2,21,-1.6,21.1,2.6,21.1,1.4,21.1,0.2,21.1,-1,21.1,-2.4,21.8,2.7,21.8,1.9,21.8,1,21.8,0.2,21.8,-1.6,21.8,-2.6,21.8,-3.3,22.4,-0.2,22.4,-0.7,22.4,-1.8,22.4,-3,23.2,2.3,23.2,1.5,23.2,0.7,23.2,-0.1,23.2,-0.9,23.2,-1.7,23.2,-2.5,23.2,-3.2,23.8,2.5,23.8,1.9,23.8,1.3,23.8,0.7,23.8,0.1,23.8,-0.5,23.8,-1.1,23.8,-1.7,23.8,-2.4,24.3,2.4,24.3,1.8,24.3,1.2,24.3,0.6,24.3,0,24.3,-0.6,24.3,-1.2,24.3,-1.8,24.9,4,24.9,3.3,24.9,2.6,24.9,2,24.9,1.3,24.9,0.6,24.9,-0.1,24.9,-0.9,24.9,-1.6,25.2,3,25.2,2.3,25.2,1.6,25.2,0.9,25.2,0.2,25.2,-0.5,25.2,-1.2,25.2,-2.6,25.7,3,25.7,2.3,25.7,1.6,25.7,0.9,25.7,0.2,25.7,-0.5,25.7,-1.2,26.1,2.9,26.1,2.2,26.1,1.5,26.1,0.8,26.1,0.1,26.1,-0.6,26.1,-1.2,40,-1,40,-1.4,40,-1.8,40,-2.2,40,-2.6,40,-3,40,-3.4,41.2,2.1,41.2,1.5,41.2,0.9,41.2,0.3,41.2,-0.3,41.2,-0.9,41.2,-1.5,41.6,2,41.6,1.4,41.6,0.8,41.6,0.2,41.6,-1,41.6,-1.6,43.8,2.6,43.8,2,43.8,0.6,43.8,0,43.8,-0.6,43.8,-1.2,44.3,2.6,44.3,2,44.3,1.4,44.3,0.8,44.3,0.2,44.3,-0.4,44.3,-1,44.3,-1.6,44.3,-2.2,44.3,-2.9,44.3,-3.4,44.8,2.4,44.8,1.8,44.8,1.2,44.8,0.6,44.8,0,44.8,-0.6,44.8,-1.2,44.8,-1.8,44.8,-2.4,44.8,-3,44.8,-3.5,44.8,-4];
const panelD_X = [25.8,3.75,33.3,3.6,32.9,-3.4,33.1,-3.6,36,4.8,36,4.3,36,3.9,36,3.5,36,3.1,36,2.7,36,2.3,36,1.9,36,1.5,36,1.1,36,0.7,36,0.3,36,-0.1,36,-0.5,36,-0.9,36,-1.3,36,-1.7,36,-2.1,36,-2.5,36,-2.9,36,-3.5,32.9,2,32.9,1.5,32.9,1,32.9,0.5,32.9,0,32.9,-0.5,32.9,-1,32.9,-1.5,32.9,-2.2,33.4,2.9,33.4,2.3,33.4,1.7,33.4,1.1,33.4,0.5,33.4,-0.1,33.4,-0.7,33.4,-1.3,33.4,-2,33.4,-2.6,35.2,3.2,35.2,2.6,35.2,2,35.2,1.4,35.2,0.8,35.2,0.2,35.2,-0.4,35.2,-1,35.2,-1.6,35.2,-2.9,33.8,2.6,33.8,1.4,33.8,0.2,33.8,-1,33.8,-1.7,45.5,2.2,45.5,1.4,45.5,0.6,45.5,-0.2,45.5,-1,45.5,-1.8,45.5,-2.6,45.5,-3.4,45.9,2.4,45.9,1.8,45.9,0.9,45.9,0.1,45.9,-0.7,45.9,-1.5,45.9,-2.3,45.9,-3.1,45.9,-3.7,50,0.65,50,-0.7,50,-1.7,50,-2.3,50,-3.4,51.9,3.6,51.9,2.6,51.9,2.2,51.9,1.8,51.9,1.4,51.9,1,51.9,-0.3,51.9,-0.8,51.9,-1.3,51.9,-1.9,53.9,3.6,53.9,2.5,54.2,2.2,53.9,0.8,54.2,1.1,53.9,0,54.2,-0.2,53.9,-1.4,54.3,2.6,54.3,0.7];
const panelD_Xdense = [33.1,1.8,33.1,1.2,33.1,0.7,33.1,0.2,33.1,-0.3,33.1,-0.8,33.1,-1.3,33.1,-1.8,33.7,3.2,33.7,2.1,33.7,0.9,33.7,-0.4,33.7,-1.4,34.5,2.6,34.5,2,34.5,1.4,34.5,0.8,34.5,0.2,34.5,-0.4,34.5,-1,34.5,-1.6,34.5,-2.2,35.5,3.4,35.5,2.8,35.5,2.2,35.5,1.6,35.5,1,35.5,0.4,35.5,-0.2,35.5,-0.8,35.5,-1.4,35.5,-2,36.1,3.7,36.1,2.9,36.1,2.1,36.1,1.3,36.1,0.5,36.1,-0.3,36.1,-1.1,36.1,-1.9,36.1,-2.7,45.3,1.9,45.3,1,45.3,0.2,45.3,-0.6,45.3,-1.4,45.3,-2.2,45.3,-3,45.3,-3.8,45.7,1.8,45.7,1,45.7,0.2,45.7,-0.6,45.7,-1.4,45.7,-2.2,45.7,-3,45.7,-3.6,46.1,2,46.1,0.5,46.1,-0.3,46.1,-1.1,46.1,-1.9,46.1,-2.7,46.1,-3.4,50,-0.5,50,-1,50,-1.4,50,-1.9,50,-2.5,51.9,2.4,51.9,2,51.9,1.6,51.9,1.2,51.9,-0.6,51.9,-1.1,51.9,-1.6,54.4,2.3,54.4,1,54,2.1,54,-0.1,54.3,0.2];

const svgNS = 'http://www.w3.org/2000/svg';

function linearScale(d0, d1, r0, r1) {
  return function (v) { return r0 + (v - d0) * (r1 - r0) / (d1 - d0); };
}

function makeEl(tag, attrs, parent) {
  const el = document.createElementNS(svgNS, tag);
  for (const k in attrs) { el.setAttribute(k, attrs[k]); }
  parent.appendChild(el);
  return el;
}

function drawAxes(group, sx, sy, xTicks, yTicks, labelRight, labelBase) {
  const ax = '#a3a3a3';
  const xMin = sx(xTicks[0]), xMax = sx(xTicks[xTicks.length - 1]);
  const yTop = sy(yTicks[0]), yBot = sy(yTicks[yTicks.length - 1]);
  const yAxis = makeEl('line', {x1: xMin, x2: xMin, y1: yTop, y2: yBot, stroke: ax, 'stroke-width': 4}, group);
  
  
  const xAxis = makeEl('line', {x1: xMin, x2: xMax, y1: yBot, y2: yBot, stroke: ax, 'stroke-width': 4}, group);
  
  
  xTicks.forEach(function (t) {
    const tick = makeEl('line', {x1: sx(t), x2: sx(t), y1: yBot, y2: yBot + 22, stroke: ax, 'stroke-width': 4}, group);
    
    
    const lab = makeEl('text', {x: sx(t) - 2, y: labelBase, 'text-anchor': 'middle', 'class': 'tick'}, group);
    lab.textContent = String(t);
    
    
  });
  yTicks.forEach(function (t) {
    const tick = makeEl('line', {x1: xMin - 25, x2: xMin, y1: sy(t), y2: sy(t), stroke: ax, 'stroke-width': 4}, group);
    
    
    const lab = makeEl('text', {x: labelRight, y: sy(t) + 22, 'text-anchor': 'end', 'class': 'tick'}, group);
    lab.textContent = String(t);
    
    
  });
}

function drawSeries(group, values, sx, sy, kind) {
  const n = values.length - (values.length % 2);
  for (let i = 0; i < n; i += 2) {
    const px = sx(values[i]), py = sy(values[i + 1]);
    let el;
    if (kind === 'L') {
      el = makeEl('circle', {cx: px, cy: py, r: 9.2, fill: 'none', stroke: '#000', 'stroke-width': 6.5}, group);
      
      
    } else if (kind === 'C') {
      el = makeEl('path', {d: 'M' + px + ' ' + (py - 9) + 'L' + (px + 8.5) + ' ' + (py + 6) + 'L' + (px - 8.5) + ' ' + (py + 6) + 'Z', fill: 'none', stroke: '#000', 'stroke-width': 7}, group);
      
      
    } else {
      el = makeEl('path', {d: 'M' + (px - 9.5) + ' ' + (py - 9.5) + 'L' + (px + 9.5) + ' ' + (py + 9.5) + 'M' + (px + 9.5) + ' ' + (py - 9.5) + 'L' + (px - 9.5) + ' ' + (py + 9.5), fill: 'none', stroke: '#000', 'stroke-width': 6.5}, group);
      
      
    }
  }
}

function buildPanel(cfg) {
  const group = document.getElementById(cfg.id);
  const sx = linearScale(cfg.xd[0], cfg.xd[1], cfg.xr[0], cfg.xr[1]);
  const sy = linearScale(cfg.yd[0], cfg.yd[1], cfg.yr[0], cfg.yr[1]);
  drawAxes(group, sx, sy, cfg.xTicks, cfg.yTicks, cfg.labelRight, cfg.labelBase);
  if (cfg.diagonal) {
    const d = makeEl('line', {x1: sx(-30), y1: sy(-30), x2: sx(4.8), y2: sy(4.8), stroke: '#666', 'stroke-width': 3}, group);
    
    
  } else {
    const z = makeEl('line', {x1: sx(cfg.xd[0]), y1: sy(0), x2: sx(cfg.xd[1]), y2: sy(0), stroke: '#222', 'stroke-width': 3, 'stroke-dasharray': '8 6'}, group);
    
    
  }
  cfg.L.forEach(function (s) { drawSeries(group, s, sx, sy, 'L'); });
  cfg.C.forEach(function (s) { drawSeries(group, s, sx, sy, 'C'); });
  cfg.X.forEach(function (s) { drawSeries(group, s, sx, sy, 'X'); });
}

buildPanel({id: 'panel-a', xd: [-30, 5], xr: [354, 1167], yd: [-30, 5], yr: [846, 94], xTicks: ticksAX, yTicks: ticksAY, labelRight: 286, labelBase: 959, diagonal: true, L: [panelA_L], C: [panelA_C, panelA_Cdense, panelA_Ccore], X: [panelA_X]});
buildPanel({id: 'panel-b', xd: [0, 10], xr: [1678, 2722], yd: [-15, 15], yr: [890, 45], xTicks: ticksBX, yTicks: ticksDiffY, labelRight: 1615, labelBase: 1001, L: [panelB_L, panelB_Ldense, panelB_Lcore], C: [panelB_C, panelB_Cdense, panelB_Ccore], X: [panelB_X, panelB_Xdense]});
buildPanel({id: 'panel-c', xd: [0, 50], xr: [242, 1304], yd: [-15, 15], yr: [2015, 1218.5], xTicks: ticksCX, yTicks: ticksDiffY, labelRight: 181, labelBase: 2126, L: [panelC_L], C: [panelC_C, panelC_Cdense, panelC_Ccore], X: [panelC_X]});
buildPanel({id: 'panel-d', xd: [15, 60], xr: [1673, 2728], yd: [-15, 15], yr: [2015, 1223], xTicks: ticksDX, yTicks: ticksDiffY, labelRight: 1611, labelBase: 2122, L: [panelD_L], C: [panelD_C, panelD_Cdense], X: [panelD_X, panelD_Xdense]});
</script>
</body>
</html>
